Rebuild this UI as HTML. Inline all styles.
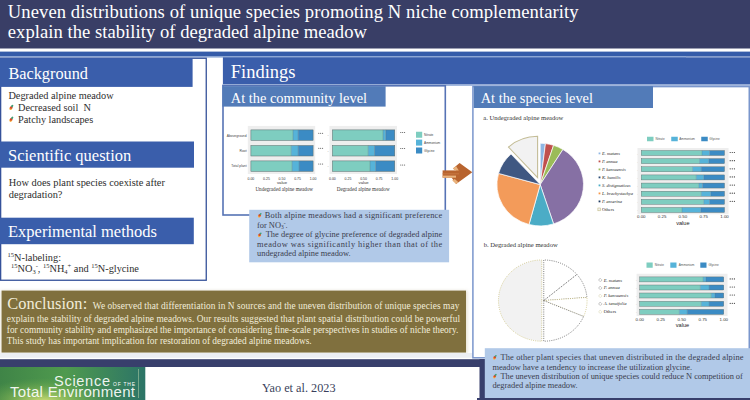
<!DOCTYPE html>
<html><head><meta charset="utf-8">
<style>
*{margin:0;padding:0}
html,body{width:750px;height:400px;overflow:hidden;background:#fff}
svg{display:block}
</style></head><body>
<svg width="750" height="400" viewBox="0 0 750 400">
<rect x="0" y="0" width="750" height="48.5" fill="#393e66"/>
<text x="7.8" y="18" font-family='"Liberation Serif",serif' font-size="18.6" fill="#fff" textLength="570.8" lengthAdjust="spacing">Uneven distributions of unique species promoting N niche complementarity</text>
<text x="7.8" y="38.2" font-family='"Liberation Serif",serif' font-size="18.6" fill="#fff" textLength="359.1" lengthAdjust="spacing">explain the stability of degraded alpine meadow</text>
<rect x="0" y="51.6" width="750" height="5" fill="#355ca9"/>
<rect x="0" y="56.2" width="686" height="1.4" fill="#8ea8d6"/>
<rect x="0.65" y="58.25" width="205.6" height="222.0" fill="#fff" stroke="#35519a" stroke-width="1.3"/>
<rect x="0" y="58.1" width="192.6" height="28.8" fill="#3a5eab"/>
<text x="8.4" y="78.8" font-family='"Liberation Serif",serif' font-size="16.3" fill="#fff">Background</text>
<text x="8.4" y="99.4" font-family='"Liberation Serif",serif' font-size="10.3" fill="#2e2e2e">Degraded alpine meadow</text>
<text x="18" y="111.1" font-family='"Liberation Serif",serif' font-size="10.3" fill="#2e2e2e">Decreased soil&#160; N</text>
<text x="18" y="122.8" font-family='"Liberation Serif",serif' font-size="10.3" fill="#2e2e2e">Patchy landscapes</text>
<rect x="0" y="141.5" width="194" height="26.2" fill="#3a5eab"/>
<text x="8" y="161" font-family='"Liberation Serif",serif' font-size="16.5" fill="#fff">Scientific question</text>
<text x="8.8" y="185.8" font-family='"Liberation Serif",serif' font-size="10.4" fill="#2e2e2e">How does plant species coexiste after</text>
<text x="8.8" y="197.5" font-family='"Liberation Serif",serif' font-size="10.4" fill="#2e2e2e">degradation?</text>
<rect x="0" y="217.7" width="193.8" height="26.5" fill="#3a5eab"/>
<text x="8" y="236.7" font-family='"Liberation Serif",serif' font-size="16.5" fill="#fff">Experimental methods</text>
<text x="7.6" y="260.5" font-family='"Liberation Serif",serif' font-size="10.3" fill="#2e2e2e"><tspan font-size="6.5" dy="-3.5">15</tspan><tspan dy="3.5">N-labeling:</tspan></text>
<text x="11" y="271.7" font-family='"Liberation Serif",serif' font-size="10.3" fill="#2e2e2e"><tspan font-size="6.5" dy="-3.5">15</tspan><tspan dy="3.5">NO</tspan><tspan font-size="6.5" dy="2">3</tspan><tspan font-size="6.5" dy="-5.5">-</tspan><tspan dy="3.5">, </tspan><tspan font-size="6.5" dy="-3.5">15</tspan><tspan dy="3.5">NH</tspan><tspan font-size="6.5" dy="2">4</tspan><tspan font-size="6.5" dy="-5.5">+</tspan><tspan dy="3.5"> and </tspan><tspan font-size="6.5" dy="-3.5">15</tspan><tspan dy="3.5">N-glycine</tspan></text>
<g transform="translate(8.9,110.0) scale(1.0)"><ellipse cx="1.9" cy="-1.5" rx="1.6" ry="1.4" fill="#f5b041" transform="rotate(-40 1.9 -1.5)"/><ellipse cx="2.3" cy="-2.6" rx="1.5" ry="1.3" fill="#d9482b" transform="rotate(-40 2.3 -2.6)"/><ellipse cx="3.3" cy="-4.0" rx="1.3" ry="0.95" fill="#3f9f75" transform="rotate(-45 3.3 -4.0)"/></g>
<g transform="translate(8.9,121.8) scale(1.0)"><ellipse cx="1.9" cy="-1.5" rx="1.6" ry="1.4" fill="#f5b041" transform="rotate(-40 1.9 -1.5)"/><ellipse cx="2.3" cy="-2.6" rx="1.5" ry="1.3" fill="#d9482b" transform="rotate(-40 2.3 -2.6)"/><ellipse cx="3.3" cy="-4.0" rx="1.3" ry="0.95" fill="#3f9f75" transform="rotate(-45 3.3 -4.0)"/></g>
<rect x="222.9" y="57.3" width="527.1" height="27.2" fill="#3a5eab"/>
<rect x="222" y="84.5" width="528" height="1.3" fill="#8ea8d6"/>
<text x="230.8" y="78.3" font-family='"Liberation Serif",serif' font-size="18.5" fill="#fff">Findings</text>
<rect x="223" y="85.8" width="222.3" height="129.2" fill="#fff" stroke="#5673b5" stroke-width="1.6"/>
<rect x="222.4" y="86.2" width="163.2" height="20.4" fill="#527bb8"/>
<text x="230.8" y="103" font-family='"Liberation Serif",serif' font-size="14.4" fill="#fff">At the community level</text>
<rect x="247.8" y="125.9" width="67.4" height="48.1" fill="#eeeeee"/>
<rect x="250.9" y="129.9" width="42.099999999999994" height="10.5" fill="#7ecdc0"/>
<rect x="293" y="129.9" width="5.199999999999989" height="10.5" fill="#56b3d9"/>
<rect x="298.2" y="129.9" width="14.900000000000034" height="10.5" fill="#3b8bc4"/>
<rect x="250.9" y="129.9" width="62.20000000000002" height="10.5" fill="none" stroke="#5a6a6a" stroke-width="0.5"/>
<line x1="293" y1="129.9" x2="293" y2="140.4" stroke="#5a6a6a" stroke-width="0.3"/>
<line x1="298.2" y1="129.9" x2="298.2" y2="140.4" stroke="#5a6a6a" stroke-width="0.3"/>
<rect x="250.9" y="145.5" width="40.29999999999998" height="10.5" fill="#7ecdc0"/>
<rect x="291.2" y="145.5" width="7.0" height="10.5" fill="#56b3d9"/>
<rect x="298.2" y="145.5" width="14.900000000000034" height="10.5" fill="#3b8bc4"/>
<rect x="250.9" y="145.5" width="62.20000000000002" height="10.5" fill="none" stroke="#5a6a6a" stroke-width="0.5"/>
<line x1="291.2" y1="145.5" x2="291.2" y2="156.0" stroke="#5a6a6a" stroke-width="0.3"/>
<line x1="298.2" y1="145.5" x2="298.2" y2="156.0" stroke="#5a6a6a" stroke-width="0.3"/>
<rect x="250.9" y="160.9" width="41.20000000000002" height="10.5" fill="#7ecdc0"/>
<rect x="292.1" y="160.9" width="7.0" height="10.5" fill="#56b3d9"/>
<rect x="299.1" y="160.9" width="14.0" height="10.5" fill="#3b8bc4"/>
<rect x="250.9" y="160.9" width="62.20000000000002" height="10.5" fill="none" stroke="#5a6a6a" stroke-width="0.5"/>
<line x1="292.1" y1="160.9" x2="292.1" y2="171.4" stroke="#5a6a6a" stroke-width="0.3"/>
<line x1="299.1" y1="160.9" x2="299.1" y2="171.4" stroke="#5a6a6a" stroke-width="0.3"/>
<text x="246.6" y="136.7" font-family='"Liberation Sans",sans-serif' font-size="3.35" fill="#444" text-anchor="end">Aboveground</text>
<text x="246.6" y="151.6" font-family='"Liberation Sans",sans-serif' font-size="3.35" fill="#444" text-anchor="end">Root</text>
<text x="246.6" y="167.4" font-family='"Liberation Sans",sans-serif' font-size="3.35" fill="#444" text-anchor="end">Total plant</text>
<text x="250.9" y="179.8" font-family='"Liberation Sans",sans-serif' font-size="3.5" fill="#333" text-anchor="middle">0.00</text>
<text x="266.45" y="179.8" font-family='"Liberation Sans",sans-serif' font-size="3.5" fill="#333" text-anchor="middle">0.25</text>
<text x="282.0" y="179.8" font-family='"Liberation Sans",sans-serif' font-size="3.5" fill="#333" text-anchor="middle">0.50</text>
<text x="297.55" y="179.8" font-family='"Liberation Sans",sans-serif' font-size="3.5" fill="#333" text-anchor="middle">0.75</text>
<text x="313.1" y="179.8" font-family='"Liberation Sans",sans-serif' font-size="3.5" fill="#333" text-anchor="middle">1.00</text>
<text x="282" y="183.6" font-family='"Liberation Sans",sans-serif' font-size="4.2" fill="#333" text-anchor="middle">value</text>
<circle cx="318.8" cy="133.2" r="0.5" fill="#3a3a3a"/>
<circle cx="320.7" cy="133.2" r="0.5" fill="#3a3a3a"/>
<circle cx="322.6" cy="133.2" r="0.5" fill="#3a3a3a"/>
<circle cx="318.8" cy="148.3" r="0.5" fill="#3a3a3a"/>
<circle cx="320.7" cy="148.3" r="0.5" fill="#3a3a3a"/>
<circle cx="322.6" cy="148.3" r="0.5" fill="#3a3a3a"/>
<circle cx="318.8" cy="164.0" r="0.5" fill="#3a3a3a"/>
<circle cx="320.7" cy="164.0" r="0.5" fill="#3a3a3a"/>
<circle cx="322.6" cy="164.0" r="0.5" fill="#3a3a3a"/>
<text x="255.4" y="191" font-family='"Liberation Serif",serif' font-size="5.15" fill="#333">Undegraded alpine meadow</text>
<rect x="329.5" y="125.9" width="67.5" height="48.1" fill="#eeeeee"/>
<rect x="332.4" y="129.9" width="50.60000000000002" height="10.5" fill="#7ecdc0"/>
<rect x="383" y="129.9" width="2.75" height="10.5" fill="#56b3d9"/>
<rect x="385.75" y="129.9" width="9.0" height="10.5" fill="#3b8bc4"/>
<rect x="332.4" y="129.9" width="62.35000000000002" height="10.5" fill="none" stroke="#5a6a6a" stroke-width="0.5"/>
<line x1="383" y1="129.9" x2="383" y2="140.4" stroke="#5a6a6a" stroke-width="0.3"/>
<line x1="385.75" y1="129.9" x2="385.75" y2="140.4" stroke="#5a6a6a" stroke-width="0.3"/>
<rect x="332.4" y="145.5" width="35.80000000000001" height="10.5" fill="#7ecdc0"/>
<rect x="368.2" y="145.5" width="6.300000000000011" height="10.5" fill="#56b3d9"/>
<rect x="374.5" y="145.5" width="20.25" height="10.5" fill="#3b8bc4"/>
<rect x="332.4" y="145.5" width="62.35000000000002" height="10.5" fill="none" stroke="#5a6a6a" stroke-width="0.5"/>
<line x1="368.2" y1="145.5" x2="368.2" y2="156.0" stroke="#5a6a6a" stroke-width="0.3"/>
<line x1="374.5" y1="145.5" x2="374.5" y2="156.0" stroke="#5a6a6a" stroke-width="0.3"/>
<rect x="332.4" y="160.9" width="37.60000000000002" height="10.5" fill="#7ecdc0"/>
<rect x="370" y="160.9" width="5.600000000000023" height="10.5" fill="#56b3d9"/>
<rect x="375.6" y="160.9" width="19.149999999999977" height="10.5" fill="#3b8bc4"/>
<rect x="332.4" y="160.9" width="62.35000000000002" height="10.5" fill="none" stroke="#5a6a6a" stroke-width="0.5"/>
<line x1="370" y1="160.9" x2="370" y2="171.4" stroke="#5a6a6a" stroke-width="0.3"/>
<line x1="375.6" y1="160.9" x2="375.6" y2="171.4" stroke="#5a6a6a" stroke-width="0.3"/>
<text x="328.6" y="136.39999999999998" font-family='"Liberation Sans",sans-serif' font-size="3.35" fill="#666" text-anchor="end">-</text>
<text x="328.6" y="152.0" font-family='"Liberation Sans",sans-serif' font-size="3.35" fill="#666" text-anchor="end">-</text>
<text x="328.6" y="167.39999999999998" font-family='"Liberation Sans",sans-serif' font-size="3.35" fill="#666" text-anchor="end">-</text>
<text x="332.4" y="179.8" font-family='"Liberation Sans",sans-serif' font-size="3.5" fill="#333" text-anchor="middle">0.00</text>
<text x="347.99" y="179.8" font-family='"Liberation Sans",sans-serif' font-size="3.5" fill="#333" text-anchor="middle">0.25</text>
<text x="363.57" y="179.8" font-family='"Liberation Sans",sans-serif' font-size="3.5" fill="#333" text-anchor="middle">0.50</text>
<text x="379.16" y="179.8" font-family='"Liberation Sans",sans-serif' font-size="3.5" fill="#333" text-anchor="middle">0.75</text>
<text x="394.75" y="179.8" font-family='"Liberation Sans",sans-serif' font-size="3.5" fill="#333" text-anchor="middle">1.00</text>
<text x="363.6" y="183.6" font-family='"Liberation Sans",sans-serif' font-size="4.2" fill="#333" text-anchor="middle">value</text>
<circle cx="400.8" cy="132.5" r="0.5" fill="#3a3a3a"/>
<circle cx="402.7" cy="132.5" r="0.5" fill="#3a3a3a"/>
<circle cx="404.6" cy="132.5" r="0.5" fill="#3a3a3a"/>
<circle cx="400.8" cy="148.5" r="0.5" fill="#3a3a3a"/>
<circle cx="402.7" cy="148.5" r="0.5" fill="#3a3a3a"/>
<circle cx="404.6" cy="148.5" r="0.5" fill="#3a3a3a"/>
<circle cx="400.8" cy="165.0" r="0.5" fill="#3a3a3a"/>
<circle cx="402.7" cy="165.0" r="0.5" fill="#3a3a3a"/>
<circle cx="404.6" cy="165.0" r="0.5" fill="#3a3a3a"/>
<text x="336.7" y="191" font-family='"Liberation Serif",serif' font-size="5.2" fill="#333">Degraded alpine meadow</text>
<rect x="416" y="131.75" width="6.2" height="6" fill="#7ecdc0"/>
<text x="424" y="135.85" font-family='"Liberation Sans",sans-serif' font-size="3.2" fill="#444">Nitrate</text>
<rect x="416" y="139.6" width="6.2" height="6" fill="#56b3d9"/>
<text x="424" y="143.7" font-family='"Liberation Sans",sans-serif' font-size="3.2" fill="#444">Ammonium</text>
<rect x="416" y="147.5" width="6.2" height="6" fill="#3b8bc4"/>
<text x="424" y="151.6" font-family='"Liberation Sans",sans-serif' font-size="3.2" fill="#444">Glycine</text>
<rect x="249.2" y="209.8" width="199.9" height="52.5" fill="#b1c9e8"/>
<g transform="translate(257.6,217.6) scale(0.9)"><ellipse cx="1.9" cy="-1.5" rx="1.6" ry="1.4" fill="#f5b041" transform="rotate(-40 1.9 -1.5)"/><ellipse cx="2.3" cy="-2.6" rx="1.5" ry="1.3" fill="#d9482b" transform="rotate(-40 2.3 -2.6)"/><ellipse cx="3.3" cy="-4.0" rx="1.3" ry="0.95" fill="#3f9f75" transform="rotate(-45 3.3 -4.0)"/></g>
<text x="264.8" y="217.7" font-family='"Liberation Serif",serif' font-size="8.4" fill="#3a3d4e" textLength="177.4" lengthAdjust="spacing">Both alpine meadows had a significant preference</text>
<text x="257" y="227.5" font-family='"Liberation Serif",serif' font-size="8.4" fill="#3a3d4e">for NO<tspan font-size="5.5" dy="1.5">3</tspan><tspan font-size="5.5" dy="-4">-</tspan><tspan dy="2.5">.</tspan></text>
<g transform="translate(257.6,237.1) scale(0.9)"><ellipse cx="1.9" cy="-1.5" rx="1.6" ry="1.4" fill="#f5b041" transform="rotate(-40 1.9 -1.5)"/><ellipse cx="2.3" cy="-2.6" rx="1.5" ry="1.3" fill="#d9482b" transform="rotate(-40 2.3 -2.6)"/><ellipse cx="3.3" cy="-4.0" rx="1.3" ry="0.95" fill="#3f9f75" transform="rotate(-45 3.3 -4.0)"/></g>
<text x="265.7" y="237.2" font-family='"Liberation Serif",serif' font-size="8.4" fill="#3a3d4e" textLength="176.5" lengthAdjust="spacing">The degree of glycine preference of degraded alpine</text>
<text x="257" y="246.7" font-family='"Liberation Serif",serif' font-size="8.4" fill="#3a3d4e" textLength="185.2" lengthAdjust="spacing">meadow was significantly higher than that of the</text>
<text x="257" y="256.3" font-family='"Liberation Serif",serif' font-size="8.4" fill="#3a3d4e">undegraded alpine meadow.</text>
<g><polygon points="459.6,162.9 472.3,172.3 456.1,183.9 451.2,177 457.9,172.1 453,168.5" fill="#b8642f"/><polygon points="442.6,170.4 459,170.4 459,177.7 442.6,177.7" fill="#b8642f"/><polygon points="442.6,173.4 459,173.4 459,174.3 442.6,174.3" fill="#c87a45"/><polygon points="442.6,175.6 456,175.6 456,177.7 442.6,177.7" fill="#e9b27c"/><polygon points="452.8,168.4 456,166.1 458.8,170.4 455,170.4" fill="#e9b27c"/><polygon points="452.2,180.6 456.1,183.9 458.4,182.2 454.8,179" fill="#e9b27c"/></g>
<rect x="472.9" y="86.6" width="276.35" height="271.2" fill="#fff" stroke="#7a96cc" stroke-width="1.5"/>
<rect x="473.7" y="86.2" width="179.3" height="21.8" fill="#527bb8"/>
<text x="480.7" y="103.3" font-family='"Liberation Serif",serif' font-size="14.4" fill="#fff">At the species level</text>
<text x="483.3" y="119.6" font-family='"Liberation Serif",serif' font-size="6.58" fill="#333">a. Undegraded alpine meadow</text>
<path d="M540.20,184.60 L540.20,143.30 A43.3,41.3 0 0 1 545.48,143.61 Z" fill="#8fb6e3" stroke="#fff" stroke-width="0.7"/>
<path d="M540.20,184.60 L545.48,143.61 A43.3,41.3 0 0 1 553.58,145.32 Z" fill="#c0504d" stroke="#fff" stroke-width="0.7"/>
<path d="M540.20,184.60 L553.58,145.32 A43.3,41.3 0 0 1 562.95,149.46 Z" fill="#9bbb59" stroke="#fff" stroke-width="0.7"/>
<path d="M540.20,184.60 L562.95,149.46 A43.3,41.3 0 0 1 553.58,223.88 Z" fill="#8670a4" stroke="#fff" stroke-width="0.7"/>
<path d="M540.20,184.60 L553.58,223.88 A43.3,41.3 0 0 1 528.99,224.49 Z" fill="#4bacc6" stroke="#fff" stroke-width="0.7"/>
<path d="M540.20,184.60 L528.99,224.49 A43.3,41.3 0 0 1 498.52,173.42 Z" fill="#f39b5a" stroke="#fff" stroke-width="0.7"/>
<path d="M540.20,184.60 L498.52,173.42 A43.3,41.3 0 0 1 511.06,154.05 Z" fill="#405882" stroke="#fff" stroke-width="0.7"/>
<path d="M537.60,177.60 L508.46,147.05 A43.3,41.3 0 0 1 537.60,136.30 Z" fill="#f2f2f2" stroke="#c4bd97" stroke-width="1.1"/>
<rect x="598.6" y="152.5" width="1.8" height="1.8" fill="#8fb6e3"/>
<text x="601.9" y="154.9" font-family='"Liberation Serif",serif' font-size="4.5" fill="#222" font-style="italic">E. matans</text>
<text x="637.2" y="154.5" font-family='"Liberation Sans",sans-serif' font-size="3" fill="#777">-</text>
<rect x="598.6" y="160.5" width="1.8" height="1.8" fill="#c0504d"/>
<text x="601.9" y="162.9" font-family='"Liberation Serif",serif' font-size="4.5" fill="#222" font-style="italic">P. annua</text>
<text x="637.2" y="162.5" font-family='"Liberation Sans",sans-serif' font-size="3" fill="#777">-</text>
<rect x="598.6" y="168.5" width="1.8" height="1.8" fill="#9bbb59"/>
<text x="601.9" y="170.9" font-family='"Liberation Serif",serif' font-size="4.5" fill="#222" font-style="italic">P. kansuensis</text>
<text x="637.2" y="170.5" font-family='"Liberation Sans",sans-serif' font-size="3" fill="#777">-</text>
<rect x="598.6" y="176.5" width="1.8" height="1.8" fill="#2c4d76"/>
<text x="601.9" y="178.9" font-family='"Liberation Serif",serif' font-size="4.5" fill="#222" font-style="italic">K. humilis</text>
<text x="637.2" y="178.5" font-family='"Liberation Sans",sans-serif' font-size="3" fill="#777">-</text>
<rect x="598.6" y="184.5" width="1.8" height="1.8" fill="#4bacc6"/>
<text x="601.9" y="186.9" font-family='"Liberation Serif",serif' font-size="4.5" fill="#222" font-style="italic">S. distigmaticus</text>
<text x="637.2" y="186.5" font-family='"Liberation Sans",sans-serif' font-size="3" fill="#777">-</text>
<rect x="598.6" y="192.5" width="1.8" height="1.8" fill="#f79646"/>
<text x="601.9" y="194.9" font-family='"Liberation Serif",serif' font-size="4.5" fill="#222" font-style="italic">L. brachystachya</text>
<text x="637.2" y="194.5" font-family='"Liberation Sans",sans-serif' font-size="3" fill="#777">-</text>
<rect x="598.6" y="200.5" width="1.8" height="1.8" fill="#1f3a60"/>
<text x="601.9" y="202.9" font-family='"Liberation Serif",serif' font-size="4.5" fill="#222" font-style="italic">P. anserina</text>
<text x="637.2" y="202.5" font-family='"Liberation Sans",sans-serif' font-size="3" fill="#777">-</text>
<rect x="597.9" y="208.0" width="2.8" height="2.8" fill="#f2f2f2" stroke="#b8b070" stroke-width="0.5"/>
<text x="601.9" y="210.9" font-family='"Liberation Serif",serif' font-size="4.5" fill="#222">Others</text>
<text x="637.2" y="210.5" font-family='"Liberation Sans",sans-serif' font-size="3" fill="#777">-</text>
<rect x="647" y="136.75" width="6.5" height="4.5" fill="#7ecdc0"/>
<text x="655.5" y="140.1" font-family='"Liberation Sans",sans-serif' font-size="3.1" fill="#555">Nitrate</text>
<rect x="671.25" y="136.75" width="6.5" height="4.5" fill="#56b3d9"/>
<text x="679.3" y="140.1" font-family='"Liberation Sans",sans-serif' font-size="3.1" fill="#555">Ammonium</text>
<rect x="701.25" y="136.75" width="6.5" height="4.5" fill="#3b8bc4"/>
<text x="709.3" y="140.1" font-family='"Liberation Sans",sans-serif' font-size="3.1" fill="#555">Glycine</text>
<rect x="637.5" y="148" width="91" height="66.25" fill="#eeeeee"/>
<rect x="641.25" y="150.5" width="60.75" height="5.0" fill="#7ecdc0"/>
<rect x="702" y="150.5" width="7.5" height="5.0" fill="#56b3d9"/>
<rect x="709.5" y="150.5" width="15.0" height="5.0" fill="#3b8bc4"/>
<rect x="641.25" y="150.5" width="83.25" height="5.0" fill="none" stroke="#5a6a6a" stroke-width="0.4"/>
<line x1="702" y1="150.5" x2="702" y2="155.5" stroke="#5a6a6a" stroke-width="0.24"/>
<line x1="709.5" y1="150.5" x2="709.5" y2="155.5" stroke="#5a6a6a" stroke-width="0.24"/>
<rect x="641.25" y="158.64" width="58.25" height="5.0" fill="#7ecdc0"/>
<rect x="699.5" y="158.64" width="9.25" height="5.0" fill="#56b3d9"/>
<rect x="708.75" y="158.64" width="15.75" height="5.0" fill="#3b8bc4"/>
<rect x="641.25" y="158.64" width="83.25" height="5.0" fill="none" stroke="#5a6a6a" stroke-width="0.4"/>
<line x1="699.5" y1="158.64" x2="699.5" y2="163.64" stroke="#5a6a6a" stroke-width="0.24"/>
<line x1="708.75" y1="158.64" x2="708.75" y2="163.64" stroke="#5a6a6a" stroke-width="0.24"/>
<rect x="641.25" y="166.78" width="51.25" height="5.0" fill="#7ecdc0"/>
<rect x="692.5" y="166.78" width="8.75" height="5.0" fill="#56b3d9"/>
<rect x="701.25" y="166.78" width="23.25" height="5.0" fill="#3b8bc4"/>
<rect x="641.25" y="166.78" width="83.25" height="5.0" fill="none" stroke="#5a6a6a" stroke-width="0.4"/>
<line x1="692.5" y1="166.78" x2="692.5" y2="171.78" stroke="#5a6a6a" stroke-width="0.24"/>
<line x1="701.25" y1="166.78" x2="701.25" y2="171.78" stroke="#5a6a6a" stroke-width="0.24"/>
<rect x="641.25" y="174.92000000000002" width="55.0" height="5.0" fill="#7ecdc0"/>
<rect x="696.25" y="174.92000000000002" width="7.5" height="5.0" fill="#56b3d9"/>
<rect x="703.75" y="174.92000000000002" width="20.75" height="5.0" fill="#3b8bc4"/>
<rect x="641.25" y="174.92000000000002" width="83.25" height="5.0" fill="none" stroke="#5a6a6a" stroke-width="0.4"/>
<line x1="696.25" y1="174.92000000000002" x2="696.25" y2="179.92000000000002" stroke="#5a6a6a" stroke-width="0.24"/>
<line x1="703.75" y1="174.92000000000002" x2="703.75" y2="179.92000000000002" stroke="#5a6a6a" stroke-width="0.24"/>
<rect x="641.25" y="183.06" width="57.5" height="5.0" fill="#7ecdc0"/>
<rect x="698.75" y="183.06" width="3.75" height="5.0" fill="#56b3d9"/>
<rect x="702.5" y="183.06" width="22.0" height="5.0" fill="#3b8bc4"/>
<rect x="641.25" y="183.06" width="83.25" height="5.0" fill="none" stroke="#5a6a6a" stroke-width="0.4"/>
<line x1="698.75" y1="183.06" x2="698.75" y2="188.06" stroke="#5a6a6a" stroke-width="0.24"/>
<line x1="702.5" y1="183.06" x2="702.5" y2="188.06" stroke="#5a6a6a" stroke-width="0.24"/>
<rect x="641.25" y="191.2" width="60.0" height="5.0" fill="#7ecdc0"/>
<rect x="701.25" y="191.2" width="9.5" height="5.0" fill="#56b3d9"/>
<rect x="710.75" y="191.2" width="13.75" height="5.0" fill="#3b8bc4"/>
<rect x="641.25" y="191.2" width="83.25" height="5.0" fill="none" stroke="#5a6a6a" stroke-width="0.4"/>
<line x1="701.25" y1="191.2" x2="701.25" y2="196.2" stroke="#5a6a6a" stroke-width="0.24"/>
<line x1="710.75" y1="191.2" x2="710.75" y2="196.2" stroke="#5a6a6a" stroke-width="0.24"/>
<rect x="641.25" y="199.34" width="62.5" height="5.0" fill="#7ecdc0"/>
<rect x="703.75" y="199.34" width="5.75" height="5.0" fill="#56b3d9"/>
<rect x="709.5" y="199.34" width="15.0" height="5.0" fill="#3b8bc4"/>
<rect x="641.25" y="199.34" width="83.25" height="5.0" fill="none" stroke="#5a6a6a" stroke-width="0.4"/>
<line x1="703.75" y1="199.34" x2="703.75" y2="204.34" stroke="#5a6a6a" stroke-width="0.24"/>
<line x1="709.5" y1="199.34" x2="709.5" y2="204.34" stroke="#5a6a6a" stroke-width="0.24"/>
<rect x="641.25" y="207.48000000000002" width="40.75" height="5.0" fill="#7ecdc0"/>
<rect x="682" y="207.48000000000002" width="18.75" height="5.0" fill="#56b3d9"/>
<rect x="700.75" y="207.48000000000002" width="23.75" height="5.0" fill="#3b8bc4"/>
<rect x="641.25" y="207.48000000000002" width="83.25" height="5.0" fill="none" stroke="#5a6a6a" stroke-width="0.4"/>
<line x1="682" y1="207.48000000000002" x2="682" y2="212.48000000000002" stroke="#5a6a6a" stroke-width="0.24"/>
<line x1="700.75" y1="207.48000000000002" x2="700.75" y2="212.48000000000002" stroke="#5a6a6a" stroke-width="0.24"/>
<text x="641.25" y="218.4" font-family='"Liberation Sans",sans-serif' font-size="4.4" fill="#333" text-anchor="middle">0.00</text>
<text x="662.06" y="218.4" font-family='"Liberation Sans",sans-serif' font-size="4.4" fill="#333" text-anchor="middle">0.25</text>
<text x="682.88" y="218.4" font-family='"Liberation Sans",sans-serif' font-size="4.4" fill="#333" text-anchor="middle">0.50</text>
<text x="703.69" y="218.4" font-family='"Liberation Sans",sans-serif' font-size="4.4" fill="#333" text-anchor="middle">0.75</text>
<text x="724.5" y="218.4" font-family='"Liberation Sans",sans-serif' font-size="4.4" fill="#333" text-anchor="middle">1.00</text>
<text x="682.9" y="225.2" font-family='"Liberation Sans",sans-serif' font-size="5.6" fill="#222" text-anchor="middle">value</text>
<circle cx="730.2" cy="152.5" r="0.62" fill="#3a3a3a"/>
<circle cx="732.3000000000001" cy="152.5" r="0.62" fill="#3a3a3a"/>
<circle cx="734.4000000000001" cy="152.5" r="0.62" fill="#3a3a3a"/>
<circle cx="730.2" cy="160.64" r="0.62" fill="#3a3a3a"/>
<circle cx="732.3000000000001" cy="160.64" r="0.62" fill="#3a3a3a"/>
<circle cx="734.4000000000001" cy="160.64" r="0.62" fill="#3a3a3a"/>
<circle cx="730.2" cy="168.78" r="0.62" fill="#3a3a3a"/>
<circle cx="732.3000000000001" cy="168.78" r="0.62" fill="#3a3a3a"/>
<circle cx="734.4000000000001" cy="168.78" r="0.62" fill="#3a3a3a"/>
<circle cx="730.2" cy="176.92000000000002" r="0.62" fill="#3a3a3a"/>
<circle cx="732.3000000000001" cy="176.92000000000002" r="0.62" fill="#3a3a3a"/>
<circle cx="734.4000000000001" cy="176.92000000000002" r="0.62" fill="#3a3a3a"/>
<circle cx="730.2" cy="185.06" r="0.62" fill="#3a3a3a"/>
<circle cx="732.3000000000001" cy="185.06" r="0.62" fill="#3a3a3a"/>
<circle cx="734.4000000000001" cy="185.06" r="0.62" fill="#3a3a3a"/>
<circle cx="730.2" cy="193.2" r="0.62" fill="#3a3a3a"/>
<circle cx="732.3000000000001" cy="193.2" r="0.62" fill="#3a3a3a"/>
<circle cx="734.4000000000001" cy="193.2" r="0.62" fill="#3a3a3a"/>
<circle cx="730.2" cy="201.34" r="0.62" fill="#3a3a3a"/>
<circle cx="732.3000000000001" cy="201.34" r="0.62" fill="#3a3a3a"/>
<circle cx="734.4000000000001" cy="201.34" r="0.62" fill="#3a3a3a"/>
<text x="483.75" y="246.9" font-family='"Liberation Serif",serif' font-size="6.6" fill="#333">b. Degraded alpine meadow</text>
<path d="M541.75,300.60 L541.75,341.20 A43.3,40.6 0 0 1 541.75,260.00 Z" fill="#f2f2f2" stroke="#c8be78" stroke-width="0.75" stroke-dasharray="1,1.2"/>
<path d="M543.75,300.60 L543.75,260.00 A43.3,40.6 0 0 1 576.92,274.50 Z" fill="#fff" stroke="#555" stroke-width="0.75" stroke-dasharray="1,1.2"/>
<path d="M543.75,300.60 L576.92,274.50 A43.3,40.6 0 0 1 586.92,297.41 Z" fill="#fff" stroke="#555" stroke-width="0.75" stroke-dasharray="1,1.2"/>
<path d="M543.75,300.60 L586.92,297.41 A43.3,40.6 0 0 1 583.61,316.46 Z" fill="#fff" stroke="#c8be78" stroke-width="0.75" stroke-dasharray="1,1.2"/>
<path d="M543.75,300.60 L583.61,316.46 A43.3,40.6 0 0 1 543.75,341.20 Z" fill="#fff" stroke="#555" stroke-width="0.75" stroke-dasharray="1,1.2"/>
<circle cx="600.3" cy="280.0" r="1.4" fill="#fff" stroke="#555" stroke-width="0.5" stroke-dasharray="0.6,0.4"/>
<text x="603.75" y="281.5" font-family='"Liberation Serif",serif' font-size="4.6" fill="#222" font-style="italic">E. matans</text>
<text x="636" y="281.1" font-family='"Liberation Sans",sans-serif' font-size="3" fill="#777">-</text>
<circle cx="600.3" cy="287.95" r="1.4" fill="#fff" stroke="#555" stroke-width="0.5" stroke-dasharray="0.6,0.4"/>
<text x="603.75" y="289.45" font-family='"Liberation Serif",serif' font-size="4.6" fill="#222" font-style="italic">P. annua</text>
<text x="636" y="289.05" font-family='"Liberation Sans",sans-serif' font-size="3" fill="#777">-</text>
<circle cx="600.3" cy="295.9" r="1.4" fill="#fff" stroke="#bdb77a" stroke-width="0.5" stroke-dasharray="0.6,0.4"/>
<text x="603.75" y="297.4" font-family='"Liberation Serif",serif' font-size="4.6" fill="#222" font-style="italic">P. kansuensis</text>
<text x="636" y="297.0" font-family='"Liberation Sans",sans-serif' font-size="3" fill="#777">-</text>
<circle cx="600.3" cy="303.85" r="1.4" fill="#fff" stroke="#555" stroke-width="0.5" stroke-dasharray="0.6,0.4"/>
<text x="603.75" y="305.35" font-family='"Liberation Serif",serif' font-size="4.6" fill="#222" font-style="italic">A. tenuifolia</text>
<text x="636" y="304.95000000000005" font-family='"Liberation Sans",sans-serif' font-size="3" fill="#777">-</text>
<circle cx="600.3" cy="311.8" r="1.4" fill="#fff" stroke="#bdb77a" stroke-width="0.5" stroke-dasharray="0.6,0.4"/>
<text x="603.75" y="313.3" font-family='"Liberation Serif",serif' font-size="4.6" fill="#222">Others</text>
<text x="636" y="312.90000000000003" font-family='"Liberation Sans",sans-serif' font-size="3" fill="#777">-</text>
<rect x="646.5" y="262.5" width="6.2" height="5.25" fill="#7ecdc0"/>
<text x="654.75" y="266.4" font-family='"Liberation Sans",sans-serif' font-size="3.1" fill="#555">Nitrate</text>
<rect x="670.3" y="262.5" width="6.2" height="5.25" fill="#56b3d9"/>
<text x="678.75" y="266.4" font-family='"Liberation Sans",sans-serif' font-size="3.1" fill="#555">Ammonium</text>
<rect x="700.3" y="262.5" width="6.2" height="5.25" fill="#3b8bc4"/>
<text x="708.4" y="266.4" font-family='"Liberation Sans",sans-serif' font-size="3.1" fill="#555">Glycine</text>
<rect x="636.6" y="273.75" width="90.9" height="42.25" fill="#eeeeee"/>
<rect x="639.75" y="276.9" width="63.35000000000002" height="5.0" fill="#7ecdc0"/>
<rect x="703.1" y="276.9" width="2.7999999999999545" height="5.0" fill="#56b3d9"/>
<rect x="705.9" y="276.9" width="17.850000000000023" height="5.0" fill="#3b8bc4"/>
<rect x="639.75" y="276.9" width="84.0" height="5.0" fill="none" stroke="#5a6a6a" stroke-width="0.4"/>
<line x1="703.1" y1="276.9" x2="703.1" y2="281.9" stroke="#5a6a6a" stroke-width="0.24"/>
<line x1="705.9" y1="276.9" x2="705.9" y2="281.9" stroke="#5a6a6a" stroke-width="0.24"/>
<rect x="639.75" y="285" width="60.549999999999955" height="5.0" fill="#7ecdc0"/>
<rect x="700.3" y="285" width="8.800000000000068" height="5.0" fill="#56b3d9"/>
<rect x="709.1" y="285" width="14.649999999999977" height="5.0" fill="#3b8bc4"/>
<rect x="639.75" y="285" width="84.0" height="5.0" fill="none" stroke="#5a6a6a" stroke-width="0.4"/>
<line x1="700.3" y1="285" x2="700.3" y2="290.0" stroke="#5a6a6a" stroke-width="0.24"/>
<line x1="709.1" y1="285" x2="709.1" y2="290.0" stroke="#5a6a6a" stroke-width="0.24"/>
<rect x="639.75" y="293" width="71.45000000000005" height="5.0" fill="#7ecdc0"/>
<rect x="711.2" y="293" width="3.699999999999932" height="5.0" fill="#56b3d9"/>
<rect x="714.9" y="293" width="8.850000000000023" height="5.0" fill="#3b8bc4"/>
<rect x="639.75" y="293" width="84.0" height="5.0" fill="none" stroke="#5a6a6a" stroke-width="0.4"/>
<line x1="711.2" y1="293" x2="711.2" y2="298.0" stroke="#5a6a6a" stroke-width="0.24"/>
<line x1="714.9" y1="293" x2="714.9" y2="298.0" stroke="#5a6a6a" stroke-width="0.24"/>
<rect x="639.75" y="301.3" width="61.5" height="5.0" fill="#7ecdc0"/>
<rect x="701.25" y="301.3" width="7.850000000000023" height="5.0" fill="#56b3d9"/>
<rect x="709.1" y="301.3" width="14.649999999999977" height="5.0" fill="#3b8bc4"/>
<rect x="639.75" y="301.3" width="84.0" height="5.0" fill="none" stroke="#5a6a6a" stroke-width="0.4"/>
<line x1="701.25" y1="301.3" x2="701.25" y2="306.3" stroke="#5a6a6a" stroke-width="0.24"/>
<line x1="709.1" y1="301.3" x2="709.1" y2="306.3" stroke="#5a6a6a" stroke-width="0.24"/>
<rect x="639.75" y="309.4" width="39.549999999999955" height="5.0" fill="#7ecdc0"/>
<rect x="679.3" y="309.4" width="7.900000000000091" height="5.0" fill="#56b3d9"/>
<rect x="687.2" y="309.4" width="36.549999999999955" height="5.0" fill="#3b8bc4"/>
<rect x="639.75" y="309.4" width="84.0" height="5.0" fill="none" stroke="#5a6a6a" stroke-width="0.4"/>
<line x1="679.3" y1="309.4" x2="679.3" y2="314.4" stroke="#5a6a6a" stroke-width="0.24"/>
<line x1="687.2" y1="309.4" x2="687.2" y2="314.4" stroke="#5a6a6a" stroke-width="0.24"/>
<text x="639.75" y="321.4" font-family='"Liberation Sans",sans-serif' font-size="4.4" fill="#333" text-anchor="middle">0.00</text>
<text x="660.75" y="321.4" font-family='"Liberation Sans",sans-serif' font-size="4.4" fill="#333" text-anchor="middle">0.25</text>
<text x="681.75" y="321.4" font-family='"Liberation Sans",sans-serif' font-size="4.4" fill="#333" text-anchor="middle">0.50</text>
<text x="702.75" y="321.4" font-family='"Liberation Sans",sans-serif' font-size="4.4" fill="#333" text-anchor="middle">0.75</text>
<text x="723.75" y="321.4" font-family='"Liberation Sans",sans-serif' font-size="4.4" fill="#333" text-anchor="middle">1.00</text>
<text x="682.5" y="326.8" font-family='"Liberation Sans",sans-serif' font-size="5.6" fill="#222" text-anchor="middle">value</text>
<circle cx="730.2" cy="278.9" r="0.62" fill="#3a3a3a"/>
<circle cx="732.3000000000001" cy="278.9" r="0.62" fill="#3a3a3a"/>
<circle cx="734.4000000000001" cy="278.9" r="0.62" fill="#3a3a3a"/>
<circle cx="730.2" cy="287.0" r="0.62" fill="#3a3a3a"/>
<circle cx="732.3000000000001" cy="287.0" r="0.62" fill="#3a3a3a"/>
<circle cx="734.4000000000001" cy="287.0" r="0.62" fill="#3a3a3a"/>
<circle cx="730.2" cy="295.0" r="0.62" fill="#3a3a3a"/>
<circle cx="732.3000000000001" cy="295.0" r="0.62" fill="#3a3a3a"/>
<circle cx="734.4000000000001" cy="295.0" r="0.62" fill="#3a3a3a"/>
<circle cx="730.2" cy="303.3" r="0.62" fill="#3a3a3a"/>
<circle cx="732.3000000000001" cy="303.3" r="0.62" fill="#3a3a3a"/>
<circle cx="734.4000000000001" cy="303.3" r="0.62" fill="#3a3a3a"/>
<defs><filter id="sh" x="-5%" y="-20%" width="110%" height="140%"><feGaussianBlur stdDeviation="1.5"/></filter></defs>
<rect x="0.5" y="290.5" width="467" height="63" fill="#cfc6ad" filter="url(#sh)" opacity="0.5"/>
<rect x="1.6" y="290.6" width="464.4" height="61.9" fill="#80703e"/>
<text x="7.2" y="308.9" font-family='"Liberation Serif",serif' font-size="16.4" fill="#f1ecd9" textLength="80" lengthAdjust="spacing">Conclusion:</text>
<text x="92.8" y="308.8" font-family='"Liberation Serif",serif' font-size="9.35" fill="#f1ecd9" textLength="366.5" lengthAdjust="spacing">We observed that differentiation in N sources and the uneven distribution of unique species may</text>
<text x="6.8" y="321.7" font-family='"Liberation Serif",serif' font-size="9.35" fill="#f1ecd9" textLength="453.2" lengthAdjust="spacing">explain the stability of degraded alpine meadows. Our results suggested that plant spatial distribution could be powerful</text>
<text x="6.8" y="332.6" font-family='"Liberation Serif",serif' font-size="9.35" fill="#f1ecd9" textLength="451.5" lengthAdjust="spacing">for community stability and emphasized the importance of considering fine-scale perspectives in studies of niche theory.</text>
<text x="6.8" y="343.5" font-family='"Liberation Serif",serif' font-size="9.35" fill="#f1ecd9">This study has important implication for restoration of degraded alpine meadows.</text>
<rect x="0" y="353" width="472" height="4.8" fill="#eceef3"/>
<rect x="0" y="359.2" width="750" height="7.8" fill="#383f6c"/>
<rect x="479.5" y="359" width="6" height="41" fill="#383f6c"/>
<rect x="484.8" y="348.2" width="265.2" height="49.8" fill="#b1c9e8"/>
<rect x="477" y="398" width="273" height="2" fill="#383f6c"/>
<g transform="translate(492.7,359.6) scale(0.9)"><ellipse cx="1.9" cy="-1.5" rx="1.6" ry="1.4" fill="#f5b041" transform="rotate(-40 1.9 -1.5)"/><ellipse cx="2.3" cy="-2.6" rx="1.5" ry="1.3" fill="#d9482b" transform="rotate(-40 2.3 -2.6)"/><ellipse cx="3.3" cy="-4.0" rx="1.3" ry="0.95" fill="#3f9f75" transform="rotate(-45 3.3 -4.0)"/></g>
<text x="500.4" y="359.9" font-family='"Liberation Serif",serif' font-size="8.4" fill="#3a3d4e" textLength="243.1" lengthAdjust="spacing">The other plant species that uneven distributed in the degraded alpine</text>
<text x="492.4" y="369.5" font-family='"Liberation Serif",serif' font-size="8.4" fill="#3a3d4e">meadow have a tendency to increase the utilization glycine.</text>
<g transform="translate(492.7,378.4) scale(0.9)"><ellipse cx="1.9" cy="-1.5" rx="1.6" ry="1.4" fill="#f5b041" transform="rotate(-40 1.9 -1.5)"/><ellipse cx="2.3" cy="-2.6" rx="1.5" ry="1.3" fill="#d9482b" transform="rotate(-40 2.3 -2.6)"/><ellipse cx="3.3" cy="-4.0" rx="1.3" ry="0.95" fill="#3f9f75" transform="rotate(-45 3.3 -4.0)"/></g>
<text x="500.4" y="378.7" font-family='"Liberation Serif",serif' font-size="8.4" fill="#3a3d4e" textLength="242.4" lengthAdjust="spacing">The uneven distribution of unique species could reduce N competition of</text>
<text x="492.4" y="388.3" font-family='"Liberation Serif",serif' font-size="8.4" fill="#3a3d4e">degraded alpine meadow.</text>
<defs><linearGradient id="lgl" x1="0" y1="0" x2="1" y2="0"><stop offset="0" stop-color="#3f8447"/><stop offset="0.45" stop-color="#4f9a4e"/><stop offset="1" stop-color="#2c7467"/></linearGradient><radialGradient id="lg" cx="0.3" cy="1.05" r="0.45" gradientTransform="translate(0.3,1.05) scale(1,1.6) translate(-0.3,-1.05)"><stop offset="0" stop-color="#d8e27a" stop-opacity="0.95"/><stop offset="0.5" stop-color="#9fc65c" stop-opacity="0.5"/><stop offset="1" stop-color="#6fae4a" stop-opacity="0"/></radialGradient></defs>
<rect x="0" y="367" width="145.3" height="33" fill="url(#lgl)"/>
<rect x="0" y="367" width="145.3" height="33" fill="url(#lg)"/>
<rect x="138.4" y="369" width="0.6" height="29" fill="#a7c9a0"/>
<text x="54" y="385.6" font-family='"Liberation Sans",sans-serif' font-size="14.6" fill="#fff" textLength="56" lengthAdjust="spacing" fill-opacity="0.92">Science</text>
<text x="113" y="385.6" font-family='"Liberation Sans",sans-serif' font-size="4.9" fill="#fff" textLength="22" lengthAdjust="spacing">OF THE</text>
<text x="10" y="397.2" font-family='"Liberation Sans",sans-serif' font-size="15" fill="#fff" textLength="125" lengthAdjust="spacing" fill-opacity="0.92">Total Environment</text>
<text x="261.9" y="391.8" font-family='"Liberation Serif",serif' font-size="12.25" fill="#3a3f5c" textLength="73.6" lengthAdjust="spacing">Yao et al. 2023</text>
</svg>
</body></html>
